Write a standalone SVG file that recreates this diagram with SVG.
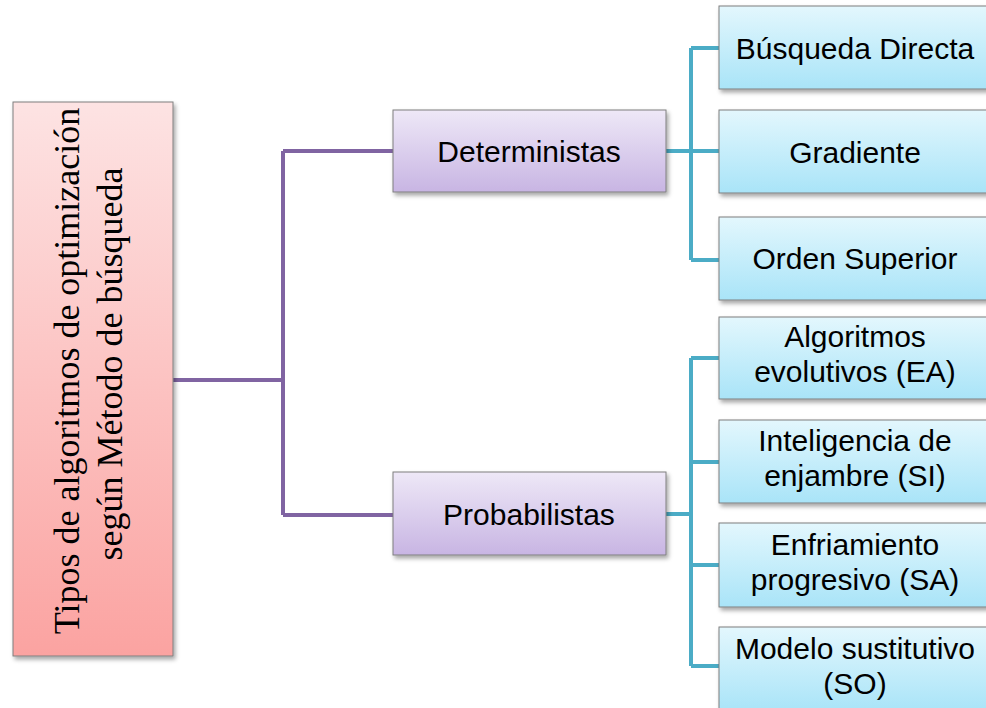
<svg xmlns="http://www.w3.org/2000/svg" width="986" height="708" viewBox="0 0 986 708">
<defs>
<linearGradient id="gRed" x1="0" y1="0" x2="0" y2="1"><stop offset="0" stop-color="#FDE3E3"/><stop offset="1" stop-color="#FBA3A1"/></linearGradient>
<linearGradient id="gPur" x1="0" y1="0" x2="0" y2="1"><stop offset="0" stop-color="#EEE8F7"/><stop offset="1" stop-color="#C8B5E3"/></linearGradient>
<linearGradient id="gBlu" x1="0" y1="0" x2="0" y2="1"><stop offset="0" stop-color="#E3F7FD"/><stop offset="1" stop-color="#A9E4F8"/></linearGradient>
<filter id="sh" x="-10%" y="-10%" width="130%" height="130%"><feDropShadow dx="2" dy="3" stdDeviation="2" flood-color="#000" flood-opacity="0.35"/></filter>
<style>
.box{stroke:#7F7F7F;stroke-width:1;filter:url(#sh)}
.t{font-family:"Liberation Sans",Arial,sans-serif;font-size:30px;fill:#000;text-anchor:middle}
.ts{font-family:"Liberation Serif","Times New Roman",serif;font-size:36px;fill:#000;text-anchor:middle}
.pl{fill:none;stroke:#8064A2;stroke-width:4}
.bl{fill:none;stroke:#4BACC6;stroke-width:4}
</style>
</defs>
<g id="connectors">
<path class="pl" d="M173 380H283M283 151V515M283 151H393M283 515H393"/>
<path class="bl" d="M666 151H691M691 48V260M691 48H719M691 151H719M691 260H719"/>
<path class="bl" d="M666 514H691M691 358V666M691 358H719M691 462H719M691 565H719M691 666H719"/>
</g>
<g id="root">
<rect class="box" x="13" y="102" width="160" height="554" fill="url(#gRed)"/>
<text class="ts" transform="translate(79,371) rotate(-90)">Tipos de algoritmos de optimización</text>
<text class="ts" transform="translate(122,364) rotate(-90)">según Método de búsqueda</text>
</g>
<g id="deterministas">
<rect class="box" x="393" y="110" width="273" height="82" fill="url(#gPur)"/>
<text class="t" x="529" y="162">Deterministas</text>
</g>
<g id="probabilistas">
<rect class="box" x="393" y="472" width="273" height="83" fill="url(#gPur)"/>
<text class="t" x="529" y="525">Probabilistas</text>
</g>
<g id="busqueda">
<rect class="box" x="719" y="6" width="273" height="83" fill="url(#gBlu)"/>
<text class="t" x="855" y="59">Búsqueda Directa</text>
</g>
<g id="gradiente">
<rect class="box" x="719" y="110" width="273" height="83" fill="url(#gBlu)"/>
<text class="t" x="855" y="163">Gradiente</text>
</g>
<g id="orden">
<rect class="box" x="719" y="217" width="273" height="83" fill="url(#gBlu)"/>
<text class="t" x="855" y="269">Orden Superior</text>
</g>
<g id="ea">
<rect class="box" x="719" y="317" width="273" height="82" fill="url(#gBlu)"/>
<text class="t" x="855" y="347">Algoritmos</text>
<text class="t" x="855" y="382">evolutivos (EA)</text>
</g>
<g id="si">
<rect class="box" x="719" y="420" width="273" height="83" fill="url(#gBlu)"/>
<text class="t" x="855" y="451">Inteligencia de</text>
<text class="t" x="855" y="486">enjambre (SI)</text>
</g>
<g id="sa">
<rect class="box" x="719" y="523" width="273" height="84" fill="url(#gBlu)"/>
<text class="t" x="855" y="555">Enfriamiento</text>
<text class="t" x="855" y="590">progresivo (SA)</text>
</g>
<g id="so">
<rect class="box" x="719" y="627" width="273" height="84" fill="url(#gBlu)"/>
<text class="t" x="855" y="659">Modelo sustitutivo</text>
<text class="t" x="855" y="694">(SO)</text>
</g>
</svg>
